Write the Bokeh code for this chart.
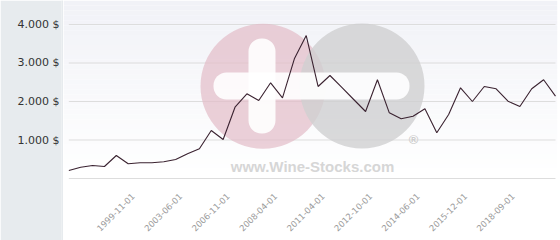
import math
from bokeh.plotting import figure
from bokeh.models import Range1d, FixedTicker
from bokeh.layouts import row
from bokeh.embed import file_html
from bokeh.resources import INLINE
from bokeh.core.properties import value

# ---------------- data ----------------
prices = [208, 294, 338, 312, 597, 382, 408, 408, 434, 494,
          642, 771, 1247, 1013, 1852, 2200, 2026, 2486, 2096, 3109,
          3714, 2390, 2675, 2364, 2052, 1740, 2564, 1706, 1551, 1618,
          1810, 1187, 1662, 2356, 2000, 2390, 2330, 2008, 1870, 2330,
          2564, 2138]
tick_index = [5, 9, 13, 17, 21, 25, 29, 33, 37]
tick_labels = ["1999-11-01", "2003-06-01", "2006-11-01", "2008-04-01",
               "2011-04-01", "2012-10-01", "2014-06-01", "2015-12-01",
               "2018-09-01"]
y_ticks = [1000, 2000, 3000, 4000]
y_tick_labels = ["1.000 $", "2.000 $", "3.000 $", "4.000 $"]

# ---------------- geometry / style ----------------
W, H = 560, 240
LEFT_W = 63
FRAME_W = 494
FRAME_H = H
X_START, X_END = -0.45, 41.17
Y_START, Y_END = -1610, 4623
AXIS_AT = -52          # value where the date labels hang from
LABEL_SHIFT = 0.40
PANEL = "#e7ebee"
GRID = "#dddddd"
LINE = "#3a2230"

yr = Range1d(Y_START, Y_END)
xr = Range1d(X_START, X_END)


def dx(px):
    return X_START + (px - LEFT_W) / FRAME_W * (X_END - X_START)


def dy(py):
    return Y_END - py / FRAME_H * (Y_END - Y_START)


# ---------------- left panel with y axis ----------------
left = figure(width=LEFT_W, height=H, y_range=yr, x_range=Range1d(0, 1),
              x_axis_location=None, toolbar_location=None,
              output_backend="svg", min_border_left=LEFT_W - 2,
              min_border_right=0, min_border_top=0, min_border_bottom=0)
left.background_fill_color = PANEL
left.border_fill_color = PANEL
left.outline_line_color = None
left.grid.visible = False
ya = left.yaxis[0]
ya.ticker = FixedTicker(ticks=y_ticks)
ya.major_label_overrides = {t: l for t, l in zip(y_ticks, y_tick_labels)}
ya.axis_line_color = None
ya.major_tick_line_color = None
ya.minor_tick_line_color = None
ya.major_tick_out = 0
ya.major_tick_in = 0
ya.minor_tick_out = 0
ya.major_label_standoff = 2
ya.major_label_text_font = "DejaVu Sans"
ya.major_label_text_font_size = "11px"
ya.major_label_text_color = "#333333"

# ---------------- main plot ----------------
p = figure(width=W - LEFT_W, height=H, x_range=xr, y_range=yr,
           y_axis_location=None, toolbar_location=None, output_backend="svg",
           min_border_left=0, min_border_right=W - LEFT_W - FRAME_W,
           min_border_top=0, min_border_bottom=0)
p.background_fill_color = "white"
p.border_fill_color = "white"
p.outline_line_color = None
p.grid.visible = False

# background gradient (top light blue-gray -> white at zero line)
n = 36
top_c = (241, 242, 247)
for i in range(n):
    f = i / (n - 1)
    c = tuple(int(round(top_c[k] + (255 - top_c[k]) * f)) for k in range(3))
    y1 = Y_END - (Y_END - 0) * i / n
    y0 = Y_END - (Y_END - 0) * (i + 1) / n
    p.quad(left=X_START, right=X_END, bottom=y0, top=y1,
           fill_color="#%02x%02x%02x" % c, line_color=None)

# grid lines
levels = [0] + y_ticks
p.segment(x0=[0] * len(levels), x1=[len(prices) - 1] * len(levels),
          y0=levels, y1=levels, line_color=GRID, line_width=1)

# watermark
p.scatter(x=[dx(262.5)], y=[dy(85.7)], size=125, marker="circle",
          fill_color="#e3bcc8", fill_alpha=0.7, line_color=None)
p.scatter(x=[dx(361.5)], y=[dy(85.5)], size=125, marker="circle",
          fill_color="#cfcfd1", fill_alpha=0.8, line_color=None)
p.rect(x=[dx(311)], y=[dy(85.5)], width=196, height=27,
       width_units="screen", height_units="screen", border_radius=13,
       fill_color="white", fill_alpha=0.9, line_color=None)
p.rect(x=[dx(261.5)], y=[dy(85.5)], width=27, height=95,
       width_units="screen", height_units="screen", border_radius=13,
       fill_color="white", fill_alpha=0.9, line_color=None)
p.text(x=[dx(312)], y=[dy(165.7)], text=["www.Wine-Stocks.com"],
       text_font=value("Liberation Sans"), text_font_style="bold",
       text_font_size="15px", text_color="#d6d6d6", text_align="center",
       text_baseline="alphabetic")
p.text(x=[dx(413)], y=[dy(139)], text=["®"],
       text_font=value("Liberation Sans"), text_font_style="bold",
       text_font_size="13px", text_color="#cccccc", text_align="center",
       text_baseline="middle")

# price line
p.line(x=list(range(len(prices))), y=prices, line_color=LINE, line_width=1.1)

label_pos = [i + LABEL_SHIFT for i in tick_index]
xa = p.xaxis[0]
xa.fixed_location = AXIS_AT
xa.ticker = FixedTicker(ticks=label_pos)
xa.major_label_overrides = {t: l for t, l in zip(label_pos, tick_labels)}
xa.major_label_orientation = math.pi / 4
xa.axis_line_color = None
xa.major_tick_line_color = None
xa.minor_tick_line_color = None
xa.major_tick_out = 0
xa.major_tick_in = 0
xa.minor_tick_out = 0
xa.major_label_standoff = 14
xa.major_label_text_font = "DejaVu Sans"
xa.major_label_text_font_size = "8.5px"
xa.major_label_text_color = "#9a9a9a"

layout = row(left, p, spacing=0)
open("out.html", "w").write(file_html(layout, INLINE))
